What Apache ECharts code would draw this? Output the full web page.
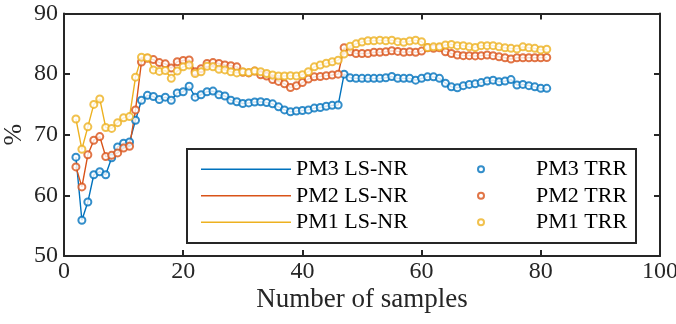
<!DOCTYPE html>
<html>
<head>
<meta charset="utf-8">
<script src="https://cdn.jsdelivr.net/npm/echarts@6/dist/echarts.min.js"></script>
<style>html,body{margin:0;padding:0;background:#fff}#c{width:676px;height:324px}</style>
</head>
<body>
<div id="c"></div>
<script>
const samples = [2,3,4,5,6,7,8,9,10,11,12,13,14,15,16,17,18,19,20,21,22,23,24,25,26,27,28,29,30,31,32,33,34,35,36,37,38,39,40,41,42,43,44,45,46,47,48,49,50,51,52,53,54,55,56,57,58,59,60,61,62,63,64,65,66,67,68,69,70,71,72,73,74,75,76,77,78,79,80,81];
const pm3 = [66.3,55.9,58.9,63.4,63.9,63.4,66.2,68.0,68.6,68.8,72.4,75.7,76.5,76.3,75.8,76.2,75.7,76.9,77.1,78.0,76.2,76.6,77.1,77.2,76.6,76.4,75.7,75.45,75.15,75.25,75.4,75.45,75.3,75.1,74.6,74.1,73.8,73.9,74.0,74.1,74.4,74.5,74.7,74.85,74.9,80.0,79.4,79.3,79.3,79.3,79.3,79.3,79.4,79.6,79.3,79.3,79.3,79.0,79.3,79.55,79.55,79.3,78.5,77.9,77.75,78.1,78.3,78.4,78.6,78.85,79.0,78.75,78.85,79.1,78.2,78.3,78.1,77.9,77.65,77.65];
const pm2 = [64.7,61.4,66.7,69.1,69.7,66.4,66.6,67.0,67.8,68.1,74.1,82.0,82.6,82.4,81.9,81.7,81.0,82.05,82.25,82.35,80.4,80.9,81.75,81.9,81.75,81.5,81.4,81.2,80.3,80.2,80.5,79.9,79.7,79.1,78.8,78.4,77.8,78.1,78.6,79.2,79.55,79.6,79.75,79.85,80.0,84.35,83.7,83.4,83.4,83.4,83.6,83.6,83.7,83.85,83.75,83.6,83.7,83.6,83.8,84.35,84.25,84.35,83.7,83.4,83.15,83.05,83.05,83.0,83.05,83.15,83.05,82.87,82.7,82.5,82.7,82.7,82.7,82.7,82.7,82.75];
const pm1 = [72.6,67.6,71.3,75.0,75.9,71.2,71.05,72.0,72.8,73.0,79.5,82.8,82.7,80.7,80.45,80.6,79.3,80.5,81.2,81.5,80.1,80.4,81.3,81.2,80.8,80.7,80.4,80.2,80.4,80.25,80.5,80.4,80.1,79.85,79.7,79.7,79.75,79.7,79.9,80.4,81.2,81.5,81.8,82.05,82.3,83.3,84.6,85.0,85.3,85.5,85.5,85.6,85.5,85.6,85.35,85.25,85.45,85.6,85.35,84.4,84.5,84.5,84.8,84.9,84.7,84.7,84.5,84.4,84.7,84.7,84.7,84.5,84.35,84.25,84.15,84.5,84.35,84.25,84.0,84.1];
const xTicks = [0,20,40,60,80,100];
const yTicks = [50,60,70,80,90];
const names = ['PM3','PM2','PM1'];
const colors = ['#0072BD','#D95319','#EDB120'];

const FONT = 'Liberation Serif';
const AX = '#262626';
const pairs = v => samples.map((x,i)=>[x,v[i]]);
const vals = [pm3,pm2,pm1];

const series = [];
vals.forEach((v,k)=>{
  series.push({name: names[k]+' LS-NR', type:'line', data: pairs(v), xAxisIndex:0, yAxisIndex:0,
    symbol:'none', lineStyle:{color:colors[k], width:1.4}, itemStyle:{color:colors[k]}, z:2, silent:true, animation:false});
});
vals.forEach((v,k)=>{
  series.push({name: names[k]+' TRR', type:'scatter', data: pairs(v), xAxisIndex:0, yAxisIndex:0,
    symbol:'emptyCircle', symbolSize:7, itemStyle:{color:colors[k], borderColor:colors[k], borderWidth:1.1}, z:3, silent:true, animation:false});
});

const axCommon = {
  type:'value', splitLine:{show:false},
  axisLine:{show:true, onZero:false, lineStyle:{color:AX, width:2}},
  axisTick:{show:true, inside:true, length:6, lineStyle:{color:AX, width:2}},
};
const xMin = xTicks[0], xMax = xTicks[xTicks.length-1], xInt = xTicks[1]-xTicks[0];
const yMin = yTicks[0], yMax = yTicks[yTicks.length-1], yInt = yTicks[1]-yTicks[0];

const chart = echarts.init(document.getElementById('c'));
chart.setOption({
  animation:false,
  backgroundColor:'#fff',
  grid:{left:64, top:13.5, right:16, bottom:68, containLabel:false, outerBoundsMode:'none'},
  xAxis:[
    Object.assign({}, axCommon, {position:'bottom', min:xMin, max:xMax, interval:xInt,
      name:'Number of samples', nameLocation:'middle', nameGap:30, nameMoveOverlap:false,
      nameTextStyle:{fontFamily:FONT, fontSize:27, color:AX},
      axisLabel:{fontFamily:FONT, fontSize:24, color:AX, margin:4}}),
    Object.assign({}, axCommon, {position:'top', min:xMin, max:xMax, interval:xInt, axisLabel:{show:false}})
  ],
  yAxis:[
    Object.assign({}, axCommon, {position:'left', min:yMin, max:yMax, interval:yInt,
      name:'%', nameLocation:'middle', nameGap:37, nameRotate:90, nameMoveOverlap:false,
      nameTextStyle:{fontFamily:FONT, fontSize:26, color:AX},
      axisLabel:{fontFamily:FONT, fontSize:24, color:AX, margin:6}}),
    Object.assign({}, axCommon, {position:'right', min:yMin, max:yMax, interval:yInt, axisLabel:{show:false}})
  ],
  graphic:[{type:'rect', left:186, top:148, shape:{width:449, height:94},
    style:{fill:'#fff', stroke:AX, lineWidth:2}, z:50, silent:true}],
  legend:[
    {orient:'vertical', left:201, top:156, padding:0, itemGap:0, itemWidth:90, itemHeight:14,
      data: names.map(n=>({name:n+' LS-NR', icon:'path://M0 0H90V1.5H0Z'})), z:60,
      textStyle:{fontFamily:FONT, fontSize:22, color:'#000', lineHeight:26.5}},
    {orient:'vertical', left:477, top:156, padding:0, itemGap:0, itemWidth:100, itemHeight:6,
      data: names.map(n=>({name:n+' TRR', icon:'emptyCircle'})), z:60,
      itemStyle:{borderWidth:1},
      textStyle:{fontFamily:FONT, fontSize:22, color:'#000', lineHeight:26.5}}
  ],
  series: series
});
</script>
</body>
</html>
